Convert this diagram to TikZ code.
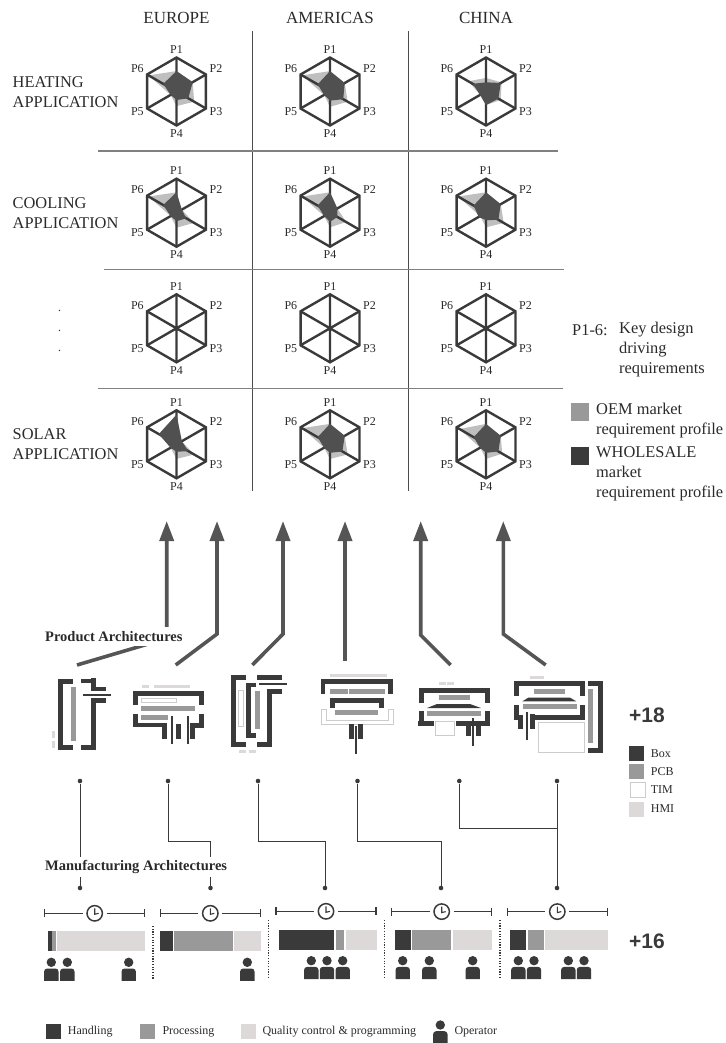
\documentclass[tikz,border=0pt]{standalone}
\usepackage{fontspec}
\setmainfont{Liberation Serif}
\newfontfamily\plusfont{Liberation Sans}
\usetikzlibrary{arrows.meta}
\definecolor{boxc}{HTML}{3A3A3A}
\definecolor{pcbc}{HTML}{999999}
\definecolor{hmic}{HTML}{DCD9D8}
\definecolor{timc}{HTML}{CCCCCC}
\definecolor{radl}{HTML}{BFBFBF}
\definecolor{radd}{HTML}{505050}
\definecolor{txt}{HTML}{2A2A2A}
\definecolor{arrc}{HTML}{555555}
\tikzset{
 big/.style={inner sep=0,text=txt,font=\fontsize{16.4}{20}\selectfont,align=left},
 head/.style={inner sep=0,text=txt,font=\fontsize{17}{20}\selectfont},
 small/.style={inner sep=0,text=txt,font=\fontsize{12}{12}\selectfont},
 heading/.style={inner sep=0,fill=white,text=txt,font=\bfseries\fontsize{14.5}{14.5}\selectfont,anchor=west},
 plus/.style={inner sep=0,text=boxc,font=\plusfont\bfseries\fontsize{21}{21}\selectfont,anchor=west},
 gridh/.style={draw=black!50,line width=1.3pt},
 gridv/.style={draw=black!70,line width=0.9pt},
 hexl/.style={draw=boxc,line width=2.4pt,line join=miter},
 bigarrow/.style={draw=arrc,line width=3.6pt,line join=miter,-{Triangle[length=20pt,width=14pt]}},
 dotn/.style={circle,fill=boxc,inner sep=0,minimum size=4.6pt},
 conn/.style={draw=boxc,line width=1pt},
 tim/.style={fill=white,draw=timc,line width=1pt},
 timer/.style={draw=boxc,line width=1.5pt},
 sep/.style={draw=boxc,line width=1.2pt,dash pattern=on 1.2pt off 1.5pt},
}
\newcommand{\Radar}[4]{% id, centre, light, dark (P1..P6)
 \begin{scope}[shift={(#2)},x=34pt,y=34pt]
  \def\pts##1##2##3##4##5##6{(90:##1)--(30:##2)--(-30:##3)--(-90:##4)--(-150:##5)--(150:##6)--cycle}
  \fill[radl] \expandafter\pts#3;
  \draw[hexl] (90:1)--(30:1)--(-30:1)--(-90:1)--(-150:1)--(150:1)--cycle;
  \draw[hexl] (90:1)--(-90:1) (30:1)--(-150:1) (-30:1)--(150:1);
  \fill[radd] \expandafter\pts#4;
  \node[small] (#1p1) at (0,1.235) {P1};
  \node[small] (#1p2) at (1.16,0.676) {P2};
  \node[small] (#1p3) at (1.16,-0.59) {P3};
  \node[small] (#1p4) at (0,-1.235) {P4};
  \node[small] (#1p5) at (-1.15,-0.59) {P5};
  \node[small] (#1p6) at (-1.15,0.676) {P6};
 \end{scope}}
\newcommand{\Rc}[5]{\fill[#5] (#1,#2) rectangle (#3,#4);}
\newcommand{\Rt}[4]{\path[tim] (#1,#2) rectangle (#3,#4);}
\newcommand{\Op}[2]{\begin{scope}[shift={(#1,#2)}]
  \fill[boxc] (0,0) circle (4.7pt);
  \fill[boxc] (-7.2,18.5) {[rounded corners=3pt] -- (-7.2,6.2) -- (7.2,6.2)} -- (7.2,18.5) -- cycle;
 \end{scope}}
\newcommand{\Clock}[2]{\begin{scope}[shift={(#1,#2)}]
  \draw[timer] (-50,-4)--(-50,4) (-50,0)--(-12,0) (12,0)--(50,0) (50,-4)--(50,4);
  \draw[timer] (0,0) circle (7.7pt);
  \draw[timer,line width=1.1pt] (0,-5)--(0,1)--(4,0);
 \end{scope}}
\newenvironment{zoomed}[2]{\begin{scope}[shift={(#1,#2)},x=0.33333pt,y=-0.33333pt]}{\end{scope}}
\begin{document}
\begin{tikzpicture}[x=1pt,y=-1pt]
\useasboundingbox (0,0) rectangle (725,1043);
% ---------- column heads
\node[head] (hE) at (176.5,17.5) {EUROPE};
\node[head] (hA) at (330,17.5) {AMERICAS};
\node[head] (hC) at (486,17.5) {CHINA};
% ---------- grid
\draw[gridv] (252.5,31)--(252.5,491);
\draw[gridv] (408.3,31)--(408.3,491);
\draw[gridh] (98,151)--(558,151);
\draw[gridh] (104,269.3)--(564,269.3);
\draw[gridh] (98,388.7)--(563,388.7);
% ---------- row labels
\node[big,anchor=west] (rH) at (12.5,91.7) {HEATING\\APPLICATION};
\node[big,anchor=west] (rC) at (12.5,213) {COOLING\\APPLICATION};
\node[big,anchor=west] (rS) at (12.5,444) {SOLAR\\APPLICATION};
\node[small,anchor=center] (d1) at (59.5,310.5) {.};
\node[small,anchor=center] (d2) at (59.5,330.5) {.};
\node[small,anchor=center] (d3) at (59.5,350.5) {.};
% ---------- radars
\Radar{a}{176.5,91.5}{{.6}{.55}{.6}{.43}{.2}{.95}}{{.6}{.55}{.4}{.25}{.2}{.45}}
\Radar{b}{330,91.5}{{.6}{.5}{.6}{.45}{.2}{.95}}{{.6}{.5}{.45}{.27}{.2}{.42}}
\Radar{c}{486,91.5}{{.4}{.53}{.5}{.4}{.2}{.6}}{{.27}{.5}{.42}{.4}{.2}{.45}}
\Radar{d}{176.5,212.7}{{.6}{.18}{.6}{.44}{.2}{.95}}{{.6}{.18}{.33}{.25}{.2}{.45}}
\Radar{e}{330,212.7}{{.6}{.25}{.55}{.43}{.2}{.95}}{{.6}{.25}{.25}{.27}{.2}{.42}}
\Radar{f}{486,212.7}{{.6}{.5}{.6}{.43}{.2}{.95}}{{.6}{.5}{.42}{.22}{.25}{.42}}
\Radar{g}{176.5,328.3}{{0}{0}{0}{0}{0}{0}}{{0}{0}{0}{0}{0}{0}}
\Radar{h}{330,328.3}{{0}{0}{0}{0}{0}{0}}{{0}{0}{0}{0}{0}{0}}
\Radar{i}{486,328.3}{{0}{0}{0}{0}{0}{0}}{{0}{0}{0}{0}{0}{0}}
\Radar{j}{176.5,444.3}{{.87}{.18}{.6}{.43}{.2}{.6}}{{.87}{.18}{.4}{.22}{.2}{.6}}
\Radar{k}{330,444.3}{{.6}{.5}{.6}{.43}{.2}{.95}}{{.6}{.5}{.42}{.25}{.2}{.42}}
\Radar{l}{486,444.3}{{.6}{.5}{.55}{.43}{.2}{.9}}{{.6}{.5}{.42}{.25}{.2}{.42}}
% ---------- right legend
\node[big,anchor=west] (k1) at (572,330) {P1-6:};
\node[big,anchor=west] (k2) at (619,350) {Key design\\driving\\requirements};
\fill[pcbc] (571,403.3) rectangle (589,421);
\fill[boxc] (571,446.7) rectangle (589,464.7);
\node[big,anchor=west] (k3) at (596,420.5) {OEM market\\requirement profile};
\node[big,anchor=west] (k4) at (596,473.5) {WHOLESALE\\market\\requirement profile};
% ---------- arrows
\coordinate (a1s) at (77,665); \coordinate (a1b) at (166.7,638.5); \coordinate (a1t) at (166.7,521);
\coordinate (a2s) at (175.7,665); \coordinate (a2b) at (217,634); \coordinate (a2t) at (217,521);
\coordinate (a3s) at (252.3,665); \coordinate (a3b) at (283,634); \coordinate (a3t) at (283,521);
\coordinate (a4s) at (345,661); \coordinate (a4t) at (345,521);
\coordinate (a5s) at (450.7,665); \coordinate (a5b) at (420.7,635); \coordinate (a5t) at (420.7,521);
\coordinate (a6s) at (545.7,665); \coordinate (a6b) at (503.3,634); \coordinate (a6t) at (503.3,521);
\draw[bigarrow] (a1s)--(a1b)--(a1t);
\draw[bigarrow] (a2s)--(a2b)--(a2t);
\draw[bigarrow] (a3s)--(a3b)--(a3t);
\draw[bigarrow] (a4s)--(a4t);
\draw[bigarrow] (a5s)--(a5b)--(a5t);
\draw[bigarrow] (a6s)--(a6b)--(a6t);
\node[heading,minimum height=19pt] (pa) at (45,636.5) {Product Architectures};
% ---------- icon 1, 2
\begin{zoomed}{30}{620}
\Rc{85}{177}{100}{389}{boxc}\Rc{85}{177}{130}{192}{boxc}\Rc{85}{375}{130}{389}{boxc}
\Rc{123}{200}{138}{362}{pcbc}
\Rc{67}{333}{75}{353}{hmic}\Rc{67}{364}{75}{383}{hmic}
\Rc{154}{177}{197}{190}{boxc}\Rc{183}{175}{197}{213}{boxc}\Rc{197}{200}{228}{213}{boxc}
\Rc{160}{222}{243}{227}{boxc}
\Rc{183}{235}{197}{389}{boxc}\Rc{197}{235}{228}{248}{boxc}\Rc{154}{375}{197}{389}{boxc}
%
\Rc{336}{195}{356}{204}{hmic}\Rc{372}{195}{480}{204}{hmic}
\Rc{310}{213}{522}{228}{boxc}\Rc{310}{213}{325}{255}{boxc}\Rc{507}{213}{522}{255}{boxc}
\Rt{334}{234}{440}{247}
\Rc{333}{258}{495}{273}{pcbc}\Rc{333}{285}{414}{300}{pcbc}
\Rc{310}{282}{325}{322}{boxc}\Rc{310}{310}{411}{322}{boxc}\Rc{397}{310}{411}{357}{boxc}
\Rc{507}{282}{522}{322}{boxc}\Rc{481}{310}{522}{325}{boxc}\Rc{481}{310}{495}{357}{boxc}
\Rc{438}{312}{452}{357}{boxc}
\Rc{423}{288}{428}{372}{boxc}\Rc{471}{288}{476}{372}{boxc}
\end{zoomed}
% ---------- icon 3, 4
\begin{zoomed}{220}{630}
\Rc{33}{135}{48}{350}{boxc}\Rc{33}{135}{78}{150}{boxc}\Rc{33}{336}{78}{350}{boxc}
\Rt{56}{181}{71}{289}
\Rc{78}{158}{93}{323}{boxc}\Rc{78}{158}{108}{172}{boxc}\Rc{78}{310}{108}{323}{boxc}
\Rc{105}{182}{120}{297}{pcbc}
\Rc{110}{135}{186}{150}{boxc}\Rc{117}{159}{201}{164}{boxc}
\Rc{141}{177}{186}{191}{boxc}\Rc{141}{177}{156}{350}{boxc}\Rc{110}{336}{156}{350}{boxc}
\Rc{57}{360}{78}{369}{hmic}\Rc{87}{360}{108}{369}{hmic}
%
\Rc{330}{132}{501}{141}{hmic}
\Rc{303}{148}{519}{163}{boxc}\Rc{303}{148}{316}{191}{boxc}\Rc{505}{148}{519}{191}{boxc}
\Rc{330}{177}{384}{191}{pcbc}\Rc{387}{177}{495}{191}{pcbc}
\Rc{330}{205}{492}{219}{boxc}\Rc{330}{205}{345}{234}{boxc}\Rc{477}{205}{492}{234}{boxc}
\path[tim] (303,238)--(318,238)--(318,270)--(504,270)--(504,238)--(519,238)--(519,284)--(303,284)--cycle;
\Rc{345}{240}{474}{255}{pcbc}
\Rc{387}{282}{402}{327}{boxc}\Rc{414}{282}{429}{327}{boxc}
\Rc{405}{288}{410}{372}{boxc}
\end{zoomed}
% ---------- icon 5, 6, legend
\begin{zoomed}{400}{630}
\Rc{117}{155}{138}{164}{hmic}\Rc{141}{155}{162}{164}{hmic}
\Rc{57}{174}{270}{189}{boxc}\Rc{57}{174}{72}{219}{boxc}\Rc{255}{174}{270}{219}{boxc}
\Rc{117}{195}{210}{210}{pcbc}
\fill[boxc] (81,234)--(111,222)--(210,222)--(243,234)--cycle;
\Rc{81}{243}{243}{258}{pcbc}
\Rc{57}{243}{72}{288}{boxc}\Rc{54}{273}{102}{288}{boxc}
\Rc{255}{243}{270}{288}{boxc}\Rc{168}{273}{270}{288}{boxc}
\Rc{198}{273}{213}{318}{boxc}\Rc{228}{273}{243}{318}{boxc}
\Rt{105}{274}{162}{315}
\Rc{216}{264}{221}{348}{boxc}
%
\Rc{390}{138}{432}{147}{hmic}
\Rc{342}{153}{555}{168}{boxc}\Rc{342}{153}{357}{198}{boxc}\Rc{540}{153}{555}{198}{boxc}
\Rc{402}{177}{495}{192}{pcbc}
\fill[boxc] (367,214)--(385,203)--(510,203)--(529,214)--cycle;
\Rc{369}{222}{531}{237}{pcbc}
\Rc{342}{225}{357}{270}{boxc}\Rc{354}{255}{369}{297}{boxc}
\Rc{390}{252}{405}{297}{boxc}\Rc{390}{255}{555}{270}{boxc}\Rc{540}{225}{555}{270}{boxc}
\Rc{378}{246}{384}{330}{boxc}
\Rt{414}{278}{554}{366}
\Rc{564}{153}{609}{168}{boxc}\Rc{594}{153}{609}{368}{boxc}\Rc{564}{354}{609}{368}{boxc}
\Rc{564}{177}{579}{339}{pcbc}
% legend
\Rc{687}{348}{732}{393}{boxc}\Rc{687}{403}{732}{447}{pcbc}
\Rt{690}{458}{735}{502}
\Rc{687}{516}{732}{560}{hmic}
\node[small,anchor=west] (lb) at (752,372) {Box};
\node[small,anchor=west] (lp) at (752,426) {PCB};
\node[small,anchor=west] (lt) at (752,480) {TIM};
\node[small,anchor=west] (lh) at (752,537) {HMI};
\end{zoomed}
\node[plus] (p18) at (629,715) {+18};
% ---------- connectors
\foreach \n/\x/\y in {c1a/80/781,c1b/80/888,c2a/168/781,c2b/210.5/888,c3a/258/781,c3b/325/888,c4a/357.5/781,c4b/441/888,c5a/459.3/781,c5c/557/781,c5b/557/888}
  \node[dotn] (\n) at (\x,\y) {};
\coordinate (c2m) at (168,841.6); \coordinate (c2n) at (210.5,841.6);
\coordinate (c3m) at (258,841.6); \coordinate (c3n) at (325,841.6);
\coordinate (c4m) at (357.5,841.6); \coordinate (c4n) at (441,841.6);
\coordinate (c5m) at (459.3,828); \coordinate (c5n) at (557,828);
\draw[conn] (c1a)--(c1b);
\draw[conn] (c2a)--(c2m)--(c2n)--(c2b);
\draw[conn] (c3a)--(c3m)--(c3n)--(c3b);
\draw[conn] (c4a)--(c4m)--(c4n)--(c4b);
\draw[conn] (c5a)--(c5m)--(c5n);
\draw[conn] (c5c)--(c5b);
\node[heading,minimum height=20pt] (ma) at (45,867) {Manufacturing Architectures};
% ---------- timers
\Clock{94.7}{913.3}\Clock{210.3}{913.3}\Clock{326}{911.3}\Clock{441.7}{911.6}\Clock{557.3}{911.6}
\draw[sep] (153,926)--(153,979);
\draw[sep] (268.3,920)--(268.3,979);
\draw[sep] (384.3,920)--(384.3,979);
\draw[sep] (500,920)--(500,979);
% ---------- bars
\begin{zoomed}{30}{860}
\Rc{54}{212}{66}{272}{boxc}\Rc{66}{212}{78}{272}{pcbc}\Rc{81}{212}{345}{272}{hmic}
\Rc{390}{212}{429}{272}{boxc}\Rc{432}{212}{609}{272}{pcbc}\Rc{612}{212}{693}{272}{hmic}
\Rc{747}{210}{912}{270}{boxc}\Rc{918}{210}{942}{270}{pcbc}\Rc{948}{210}{1041}{270}{hmic}
\Rc{48}{492}{93}{537}{boxc}\Rc{330}{492}{375}{537}{pcbc}\Rc{633}{492}{678}{537}{hmic}
\end{zoomed}
\begin{zoomed}{375}{860}
\Rc{60}{210}{108}{270}{boxc}\Rc{111}{210}{228}{270}{pcbc}\Rc{234}{210}{351}{270}{hmic}
\Rc{405}{210}{453}{270}{boxc}\Rc{459}{210}{507}{270}{pcbc}\Rc{510}{210}{699}{270}{hmic}
\end{zoomed}
\node[plus] (p16) at (629,941) {+16};
% ---------- operators
\Op{51.3}{962.3}\Op{67.3}{962.3}\Op{128.7}{962.3}
\Op{247.3}{962.3}
\Op{311.3}{960.7}\Op{327}{960.7}\Op{342.7}{960.7}
\Op{402.7}{960.7}\Op{429.3}{960.7}\Op{472.7}{960.7}
\Op{518.3}{960.7}\Op{534}{960.7}\Op{568.3}{960.7}\Op{584}{960.7}
% ---------- bottom legend
\node[small,anchor=west] (l1) at (67.7,1032) {Handling};
\node[small,anchor=west] (l2) at (162.3,1032) {Processing};
\node[small,anchor=west] (l3) at (262.3,1032) {Quality control \& programming};
\Op{440.3}{1025}
\node[small,anchor=west] (l4) at (454.3,1032) {Operator};
\end{tikzpicture}
\end{document}
